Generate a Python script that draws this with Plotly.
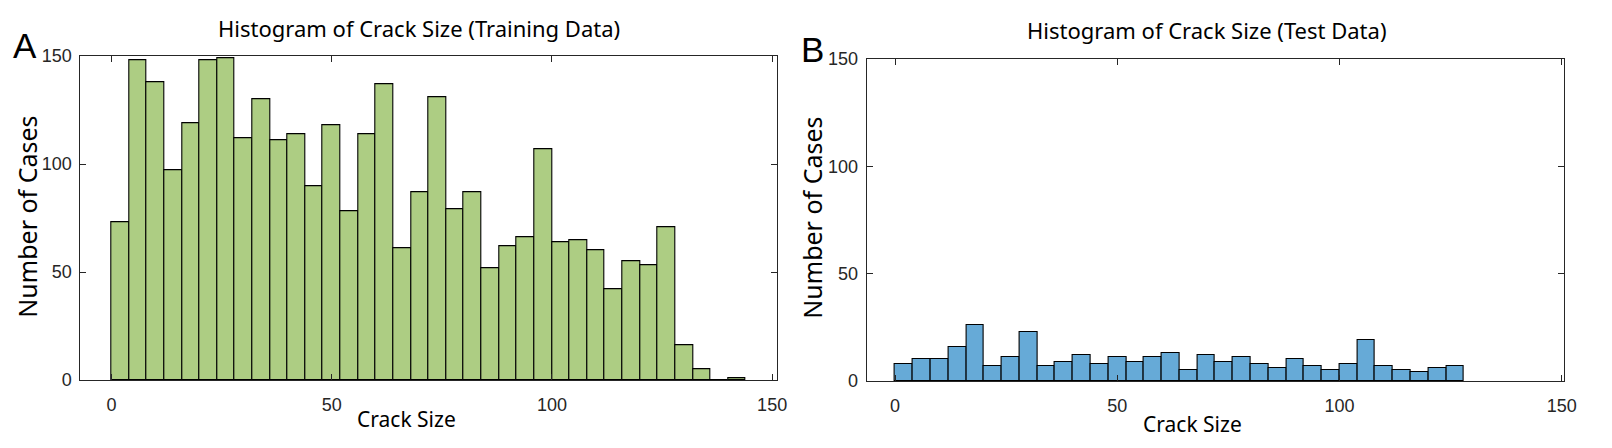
import plotly.graph_objects as go

# ---------------- data ----------------
train_bin_starts = [0, 4, 8, 12, 16, 20, 24, 28, 32, 36, 40, 44, 48, 52, 56, 60, 64, 68,
                    72, 76, 80, 84, 88, 92, 96, 100, 104, 108, 112, 116, 120, 124, 128,
                    132, 136, 140]
train_counts = [73, 148, 138, 97, 119, 148, 149, 112, 130, 111, 114, 90, 118, 78, 114, 137, 61, 87,
                131, 79, 87, 52, 62, 66, 107, 64, 65, 60, 42, 55, 53, 71, 16,
                5, 0, 1]

test_bin_starts = [0, 4, 8, 12, 16, 20, 24, 28, 32, 36, 40, 44, 48, 52, 56, 60, 64, 68,
                   72, 76, 80, 84, 88, 92, 96, 100, 104, 108, 112, 116, 120, 124]
test_counts = [8, 10, 10, 16, 26, 7, 11, 23, 7, 9, 12, 8, 11, 9, 11, 13, 5, 12,
               9, 11, 8, 6, 10, 7, 5, 8, 19, 7, 5, 4, 6, 7]

bin_width = 4
x_ticks = [0, 50, 100, 150]
y_ticks = [0, 50, 100, 150]

title_train = "Histogram of Crack Size (Training Data)"
title_test = "Histogram of Crack Size (Test Data)"
x_label = "Crack Size"
y_label = "Number of Cases"

# ---------------- layout helpers ----------------
W, H = 1612, 448


def px(x):
    return x / W


def py(y):
    return 1 - y / H


GREEN = "#ADCD83"
BLUE = "#66AAD7"
AXC = "#262626"
TITLE_FONT = "Noto Sans, Open Sans, DejaVu Sans, sans-serif"
TICK_FONT = "Liberation Sans, Arial, sans-serif"

fig = go.Figure()
fig.add_trace(go.Bar(x=train_bin_starts, y=train_counts, width=bin_width, offset=0,
                     marker=dict(color=GREEN, line=dict(color="black", width=1.1)),
                     xaxis="x", yaxis="y", showlegend=False))
fig.add_trace(go.Bar(x=test_bin_starts, y=test_counts, width=bin_width, offset=0,
                     marker=dict(color=BLUE, line=dict(color="black", width=1.1)),
                     xaxis="x2", yaxis="y2", showlegend=False))

axis_common = dict(
    showline=True, linecolor=AXC, linewidth=1, mirror="ticks",
    ticks="inside", ticklen=6, tickwidth=1, tickcolor=AXC,
    showgrid=False, zeroline=False,
    tickfont=dict(family=TICK_FONT, size=18, color=AXC),
    fixedrange=True,
)

fig.update_layout(
    width=W, height=H,
    margin=dict(l=0, r=0, t=0, b=0),
    paper_bgcolor="white", plot_bgcolor="white",
    bargap=0,
    xaxis=dict(domain=[px(81), px(783.3)], range=[-7.05, 151.1],
               tickvals=x_ticks, anchor="y", ticklabelstandoff=8, **axis_common),
    yaxis=dict(domain=[py(387.3), py(48.3)], range=[0, 150],
               tickvals=y_ticks, anchor="x", ticklabelstandoff=4, **axis_common),
    xaxis2=dict(domain=[px(873.7), px(1576.7)], range=[-6.4, 150.5],
                tickvals=x_ticks, anchor="y2", ticklabelstandoff=8, **axis_common),
    yaxis2=dict(domain=[py(388.3), py(51.3)], range=[0, 150],
                tickvals=y_ticks, anchor="x2", ticklabelstandoff=4, **axis_common),
)


def ann(text, x, y, size, family=TITLE_FONT, color="black", angle=0):
    fig.add_annotation(text=text, x=px(x), y=py(y), xref="paper", yref="paper",
                       xanchor="center", yanchor="middle", showarrow=False,
                       textangle=angle, font=dict(family=family, size=size, color=color))


ann(title_train, 422.5, 19, 22)
ann(title_test, 1216.7, 21, 22)
ann(x_label, 410, 428, 21)
ann(x_label, 1202, 433.5, 21)
ann(y_label, 27.5, 216, 25, angle=-90)
ann(y_label, 818.5, 217.5, 25, angle=-90)
ann("A", 25, 37, 35, family=TICK_FONT)
ann("B", 819, 41, 35, family=TICK_FONT)

fig.write_html(
    "out.html",
    config={"displayModeBar": False},
    post_script="document.body.style.margin='0';document.body.style.overflow='hidden';",
)
